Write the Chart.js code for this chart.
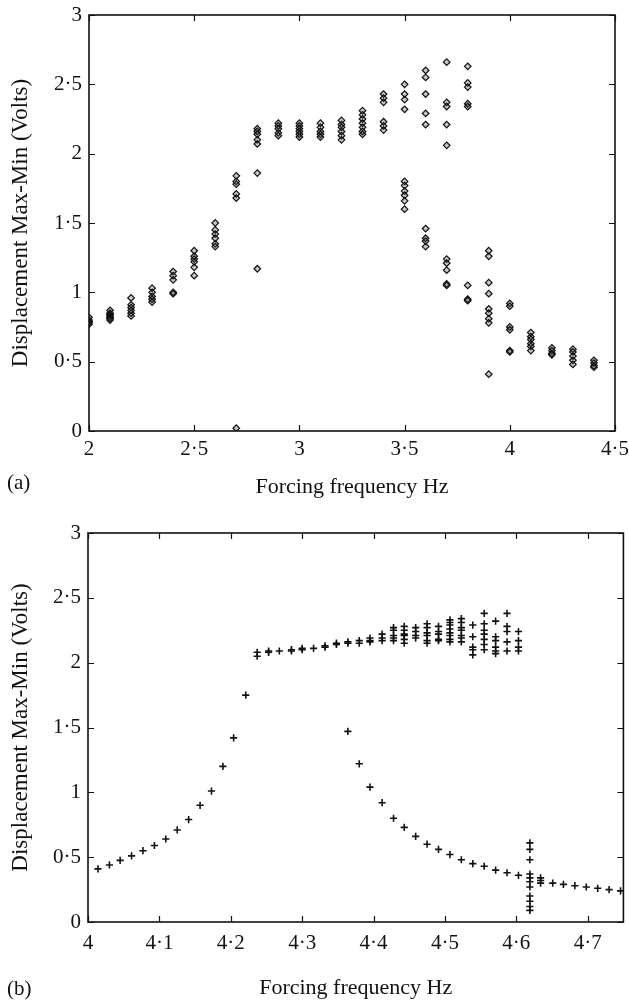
<!DOCTYPE html>
<html>
<head>
<meta charset="utf-8">
<script src="https://cdn.jsdelivr.net/npm/chart.js@4"></script>
<style>
  body { margin: 0; background: #fff; }
  #wrap { position: relative; width: 629px; height: 1001px; }
  canvas { position: absolute; left: 0; }
  #chartA { top: 0; }
  #chartB { top: 500px; }
  .tag { position: absolute; left: 7px; font: 21px "Liberation Serif", serif; color: #111; }
</style>
</head>
<body>
<div id="wrap">
  <canvas id="chartA" width="629" height="500"></canvas>
  <canvas id="chartB" width="629" height="501"></canvas>
  <div class="tag" style="top:470px">(a)</div>
  <div class="tag" style="top:976px">(b)</div>
</div>
<script>
// (a) forcing frequencies and the amplitudes recorded at each
const freqA = [2.0, 2.1, 2.2, 2.3, 2.4, 2.5, 2.6, 2.7, 2.8, 2.9, 3.0, 3.1, 3.2,
  3.3, 3.4, 3.5, 3.6, 3.7, 3.8, 3.9, 4.0, 4.1, 4.2, 4.3, 4.4];
const voltsA = [
  [0.82, 0.80, 0.79, 0.78, 0.77],
  [0.87, 0.85, 0.84, 0.83, 0.82, 0.81, 0.80],
  [0.96, 0.91, 0.89, 0.87, 0.85, 0.83],
  [1.03, 1.00, 0.97, 0.95, 0.93],
  [1.15, 1.12, 1.09, 1.00, 0.99],
  [1.30, 1.26, 1.24, 1.22, 1.18, 1.12],
  [1.50, 1.45, 1.42, 1.39, 1.35, 1.33],
  [1.84, 1.80, 1.78, 1.71, 1.68, 0.02],
  [2.18, 2.16, 2.14, 2.10, 2.07, 1.86, 1.17],
  [2.22, 2.20, 2.18, 2.15, 2.13],
  [2.22, 2.20, 2.18, 2.16, 2.14, 2.12],
  [2.22, 2.19, 2.16, 2.14, 2.12],
  [2.24, 2.21, 2.19, 2.16, 2.13, 2.10],
  [2.31, 2.28, 2.25, 2.22, 2.19, 2.16, 2.14],
  [2.43, 2.40, 2.37, 2.23, 2.20, 2.17],
  [2.50, 2.43, 2.39, 2.32, 1.80, 1.77, 1.73, 1.70, 1.66, 1.60],
  [2.60, 2.55, 2.43, 2.29, 2.21, 1.46, 1.39, 1.37, 1.33],
  [2.66, 2.37, 2.34, 2.21, 2.06, 1.24, 1.21, 1.16, 1.06, 1.05],
  [2.63, 2.51, 2.48, 2.36, 2.34, 1.05, 0.95, 0.94],
  [1.30, 1.26, 1.07, 0.99, 0.88, 0.85, 0.81, 0.78, 0.41],
  [0.92, 0.90, 0.75, 0.73, 0.58, 0.57],
  [0.71, 0.68, 0.66, 0.63, 0.61, 0.58],
  [0.60, 0.58, 0.56, 0.55],
  [0.59, 0.57, 0.54, 0.51, 0.48],
  [0.51, 0.49, 0.47, 0.46]
];

// (b) upper (large amplitude) branch
const upperFreqB = [4.237, 4.253, 4.268, 4.285, 4.300, 4.316, 4.332, 4.348, 4.364,
  4.380, 4.395, 4.412, 4.428, 4.443, 4.459, 4.475, 4.491, 4.507, 4.523, 4.539,
  4.555, 4.571, 4.587, 4.603];
const upperVoltsB = [
  [2.08, 2.05], [2.09, 2.08], [2.09], [2.10, 2.09], [2.11, 2.10], [2.11],
  [2.13, 2.12], [2.15, 2.14], [2.16, 2.15], [2.17, 2.15], [2.19, 2.17, 2.16],
  [2.22, 2.19, 2.17], [2.27, 2.25, 2.21, 2.19, 2.17],
  [2.28, 2.25, 2.22, 2.21, 2.18, 2.15], [2.27, 2.24, 2.21, 2.19],
  [2.30, 2.27, 2.23, 2.21, 2.17, 2.15], [2.28, 2.24, 2.22, 2.18, 2.17],
  [2.33, 2.31, 2.29, 2.26, 2.23, 2.21, 2.18, 2.16],
  [2.34, 2.31, 2.27, 2.25, 2.21, 2.19, 2.16], [2.29, 2.20, 2.12, 2.10, 2.06],
  [2.38, 2.30, 2.25, 2.22, 2.18, 2.14, 2.10], [2.32, 2.20, 2.17, 2.12, 2.09, 2.07],
  [2.38, 2.28, 2.24, 2.16, 2.09], [2.24, 2.17, 2.12, 2.09]
];

// (b) lower (small amplitude) branch
const lowerFreqB = [4.014, 4.030, 4.045, 4.061, 4.077, 4.093, 4.109, 4.125, 4.141,
  4.157, 4.173, 4.189, 4.204, 4.221, 4.364, 4.380, 4.395, 4.412, 4.428, 4.443,
  4.459, 4.475, 4.491, 4.507, 4.523, 4.539, 4.555, 4.571, 4.587, 4.603, 4.619,
  4.634, 4.651, 4.666, 4.682, 4.698, 4.714, 4.730, 4.746];
const lowerVoltsB = [
  [0.41], [0.44], [0.475], [0.51], [0.55], [0.59], [0.64], [0.71], [0.79],
  [0.90], [1.01], [1.20], [1.42], [1.75], [1.47], [1.22], [1.04], [0.92],
  [0.80], [0.73], [0.66], [0.60], [0.56], [0.52], [0.48], [0.45], [0.43],
  [0.40], [0.38], [0.36],
  [0.61, 0.56, 0.48, 0.37, 0.34, 0.31, 0.27, 0.20, 0.16, 0.12, 0.09],
  [0.34, 0.32, 0.30], [0.30], [0.29], [0.28], [0.27], [0.26], [0.25], [0.24]
];

const xTicksA = [2, 2.5, 3, 3.5, 4, 4.5];
const xTicksB = [4, 4.1, 4.2, 4.3, 4.4, 4.5, 4.6, 4.7];
const yTicks = [0, 0.5, 1, 1.5, 2, 2.5, 3];

function toPoints(freqs, volts) {
  const pts = [];
  freqs.forEach((f, i) => volts[i].forEach(v => pts.push({ x: f, y: v })));
  return pts;
}

function dotLabel(value) {
  return String(Math.round(value * 100) / 100).replace('.', '\u00b7');
}

// box round the plot with short ticks pointing inwards on all four sides
const frameTicks = {
  id: 'frameTicks',
  afterDraw(chart) {
    const { ctx, chartArea: a, scales: { x, y } } = chart;
    ctx.save();
    ctx.strokeStyle = '#111';
    ctx.lineWidth = 1.6;
    ctx.strokeRect(a.left, a.top, a.right - a.left, a.bottom - a.top);
    ctx.beginPath();
    x.ticks.forEach(t => {
      const p = Math.round(x.getPixelForValue(t.value)) + 0.5;
      ctx.moveTo(p, a.bottom); ctx.lineTo(p, a.bottom - 6);
      ctx.moveTo(p, a.top); ctx.lineTo(p, a.top + 6);
    });
    y.ticks.forEach(t => {
      const p = Math.round(y.getPixelForValue(t.value)) + 0.5;
      ctx.moveTo(a.left, p); ctx.lineTo(a.left + 6, p);
      ctx.moveTo(a.right, p); ctx.lineTo(a.right - 6, p);
    });
    ctx.lineWidth = 1.2;
    ctx.stroke();
    ctx.restore();
  }
};

const family = '"Liberation Serif", "Times New Roman", serif';
const tickFont = { family, size: 21 };

function makeChart(id, datasets, o) {
  return new Chart(document.getElementById(id), {
    type: 'scatter',
    data: { datasets },
    plugins: [frameTicks],
    options: {
      responsive: false,
      animation: false,
      events: [],
      layout: { padding: { left: 0, top: o.top, right: o.right, bottom: 0 } },
      plugins: { legend: { display: false }, tooltip: { enabled: false } },
      scales: {
        x: {
          type: 'linear',
          min: o.xMin,
          max: o.xMax,
          afterBuildTicks: s => { s.ticks = o.xTicks.map(v => ({ value: v })); },
          afterFit: s => { s.height = o.xHeight; s.paddingLeft = 0; s.paddingRight = 0; },
          grid: { display: false, drawTicks: false },
          border: { display: false },
          ticks: { color: '#111', font: tickFont, padding: o.xPad, maxRotation: 0, callback: dotLabel },
          title: { display: true, text: 'Forcing frequency Hz', color: '#111', font: { family, size: 22 }, padding: 0 }
        },
        y: {
          min: 0,
          max: 3,
          afterBuildTicks: s => { s.ticks = yTicks.map(v => ({ value: v })); },
          afterFit: s => { s.width = o.yWidth; s.paddingTop = 0; s.paddingBottom = 0; },
          grid: { display: false, drawTicks: false },
          border: { display: false },
          ticks: { color: '#111', font: tickFont, padding: 7, callback: dotLabel },
          title: { display: true, text: 'Displacement Max-Min (Volts)', color: '#111', font: { family, size: 23 }, padding: { top: 7, bottom: 0 } }
        }
      }
    }
  });
}

document.addEventListener('DOMContentLoaded', () => {
  makeChart('chartA', [{
    data: toPoints(freqA, voltsA),
    pointStyle: 'rectRot',
    pointRadius: 3.3,
    borderWidth: 1.2,
    borderColor: '#111',
    backgroundColor: 'rgba(70,70,70,0.3)'
  }], { top: 15, right: 14, xMin: 2, xMax: 4.5, xTicks: xTicksA, xHeight: 69, xPad: 6, yWidth: 89 });

  const cross = {
    pointStyle: 'cross',
    pointRadius: 3.6,
    borderWidth: 1.6,
    borderColor: '#111',
    backgroundColor: '#111'
  };
  makeChart('chartB', [
    Object.assign({ data: toPoints(upperFreqB, upperVoltsB) }, cross),
    Object.assign({ data: toPoints(lowerFreqB, lowerVoltsB) }, cross)
  ], { top: 33, right: 4, xMin: 4, xMax: 4.75, xTicks: xTicksB, xHeight: 79, xPad: 9, yWidth: 88 });
});
</script>
</body>
</html>
